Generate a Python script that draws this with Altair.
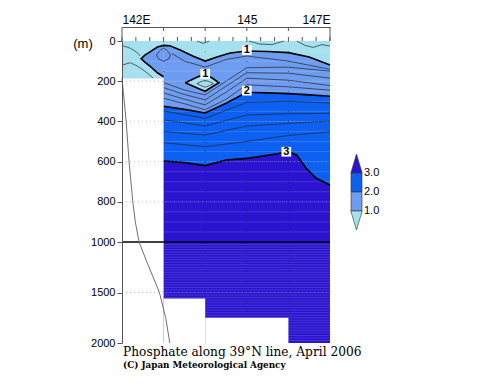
import altair as alt
import pandas as pd

# ---------------- values ----------------
# thick contour 3.0
c3_lon = [142.0, 143.0, 143.5, 144.0, 144.5, 145.0, 145.55, 146.0, 146.2, 146.43, 146.67, 147.0]
c3_dep = [597, 597, 605, 620, 592, 584, 567, 551, 567, 634, 683, 716]
# thick contour 2.0
c2_lon = [142.0, 143.0, 143.5, 144.0, 144.5, 145.0, 145.5, 146.0, 146.5, 147.0]
c2_dep = [325, 325, 340, 358, 310, 255, 258, 262, 268, 275]
# thick contour 1.0 : upper branch and lower (pocket) branch
c1u_lon = [142.46, 142.55, 142.7, 142.85, 143.0, 143.15, 143.4, 143.7, 144.0, 144.3, 144.6, 145.0, 145.5, 146.0, 146.5, 147.0]
c1u_dep = [88, 70, 50, 30, 22, 24, 45, 75, 100, 78, 60, 50, 52, 58, 80, 120]
c1l_lon = [142.46, 142.55, 142.7, 142.85, 143.0]
c1l_dep = [88, 105, 130, 158, 178]
# closed 1.0 bubble
bub_lon = [143.52, 143.7, 143.85, 144.0, 144.15, 144.33]
bub_top = [208, 190, 176, 170, 182, 208]
bub_bot = [208, 224, 238, 250, 230, 208]

# thin contours (every 0.2)
thin = {
    "t28": ([143, 144, 145, 146, 147], [506, 526, 500, 470, 452]),
    "t26": ([143, 144, 145, 146, 147], [450, 468, 423, 410, 398]),
    "t24": ([143, 144, 145, 146, 147], [392, 423, 368, 362, 360]),
    "t22": ([143, 144, 145, 146, 147], [348, 385, 305, 300, 308]),
    "t18": ([143, 143.5, 144, 144.5, 145, 146, 147], [285, 312, 342, 290, 218, 228, 245]),
    "t16": ([143, 143.5, 144, 144.5, 145, 146, 147], [258, 290, 318, 255, 185, 195, 222]),
    "t14": ([143, 143.5, 144, 144.5, 145, 146, 147], [232, 266, 293, 225, 158, 160, 185]),
    "t12": ([143, 143.5, 144, 144.5, 145, 146, 147], [207, 244, 268, 200, 133, 130, 150]),
    "u12": ([143.2, 143.5, 144.0, 144.5, 145.0, 146.0, 147.0], [62, 100, 130, 92, 75, 100, 141]),
    "loop": ([143.0, 142.9, 142.83, 142.88, 143.0, 143.12, 143.17, 143.1, 143.0],
             [35, 50, 70, 90, 100, 90, 70, 50, 35]),
    "cy1": ([142.0, 142.2, 142.35, 142.44], [22, 36, 55, 75]),
    "cy2": ([142.0, 142.2, 142.4, 142.6, 142.75], [120, 108, 128, 158, 185]),
    "cy3": ([143.8, 143.95, 144.1], [0, 12, 0]),
    "cy4": ([145.05, 145.3, 145.6, 145.9], [0, 15, 18, 0]),
    "cy5": ([146.2, 146.4, 146.6, 146.8, 147.0], [0, 22, 32, 18, 25]),
    "cy6": ([143.8, 143.9, 144.0, 144.1, 144.2, 144.1, 144.0, 143.9, 143.8],
            [212, 202, 196, 202, 212, 222, 230, 222, 212]),
}

labels_txt = ["1", "1", "2", "3"]
labels_lon = [145.0, 144.0, 145.0, 145.95]
labels_dep = [45, 163, 247, 551]

# sea bottom (white) steps
land_lon0 = [142.0, 143.0, 144.0]
land_lon1 = [143.0, 144.0, 146.0]
land_top = [185, 1560, 1750]

# grey profile curve
prof_dep = [185, 400, 600, 800, 900, 1000, 1200, 1500, 1750, 2000]
prof_lon = [142.0, 142.1, 142.17, 142.26, 142.32, 142.41, 142.6, 142.9, 143.05, 143.15]

stations = [143, 144, 145, 146]
station_bottom = [1560, 1560, 1750, 1750]
y_ticks = [0, 200, 400, 600, 800, 1000, 1500, 2000]
grid_deps = [200, 400, 600, 800, 1500]
x_labels = [142, 145, 147]
legend_levels = ["3.0", "2.0", "1.0"]

C_CYAN, C_MED, C_BLUE, C_PURP = "#a4e0ee", "#6e9cf0", "#0c60f2", "#2a14cf"

# ---------------- scales and axes ----------------
xs = alt.Scale(domain=[142, 147], nice=False, zero=False)
ys = alt.Scale(domain=[0, 1000, 2000], range=[0, 201, 302], nice=False, zero=False)

x_axis = alt.Axis(orient="top", offset=14, values=x_labels,
                  labelExpr="datum.value == 145 ? '145' : datum.value + 'E'",
                  ticks=False, domainColor="#555", labelFont="Liberation Sans",
                  labelFontSize=12, labelPadding=1, labelColor="black", grid=False,
                  title=None)
y_axis = alt.Axis(orient="left", values=y_ticks, format="d", labelFont="Liberation Sans",
                  labelFontSize=11, labelColor="black", tickSize=5, labelPadding=2,
                  tickColor="#555", domainColor="#555", grid=False, zindex=1, title=None)


def X(f="lon"):
    return alt.X(f"{f}:Q", scale=xs, axis=x_axis, title=None)


def Y(f="dep"):
    return alt.Y(f"{f}:Q", scale=ys, axis=y_axis, title=None)


frame = pd.DataFrame({"lon": [142.0, 147.0], "top": [0, 0], "bot": [2000, 2000]})

base = alt.Chart(frame).mark_area(color=C_PURP).encode(x=X(), y=Y("top"), y2="bot:Q")

blue = alt.Chart(pd.DataFrame({"lon": c3_lon, "dep": c3_dep, "top": 0})).mark_area(
    color=C_BLUE).encode(x=X(), y=Y("top"), y2="dep:Q")
med = alt.Chart(pd.DataFrame({"lon": c2_lon, "dep": c2_dep, "top": 0})).mark_area(
    color=C_MED).encode(x=X(), y=Y("top"), y2="dep:Q")

cyan_left = alt.Chart(pd.DataFrame({"lon": [142.0, 143.0], "top": [0, 0],
                                    "dep": [land_top[0], land_top[0]]})).mark_area(
    color=C_CYAN).encode(x=X(), y=Y("top"), y2="dep:Q")
pocket = alt.Chart(pd.DataFrame({"lon": c1l_lon, "top": c1u_dep[:5], "dep": c1l_dep})).mark_area(
    color=C_MED).encode(x=X(), y=Y("top"), y2="dep:Q")
cyan_top = alt.Chart(pd.DataFrame({"lon": c1u_lon[4:], "top": 0, "dep": c1u_dep[4:]})).mark_area(
    color=C_CYAN).encode(x=X(), y=Y("top"), y2="dep:Q")
bubble = alt.Chart(pd.DataFrame({"lon": bub_lon, "top": bub_top, "dep": bub_bot})).mark_area(
    color=C_CYAN).encode(x=X(), y=Y("top"), y2="dep:Q")

# light horizontal banding of the fill (rendering texture of the original)
stripe_dep = list(range(50, 1000, 50)) + list(range(1025, 2000, 25))
stripes = alt.Chart(pd.DataFrame({"dep": stripe_dep, "lon": 142.0, "lon1": 147.0})).mark_rule(
    color="white", opacity=0.18, strokeWidth=0.8).encode(y=Y(), x=X(), x2="lon1:Q")

st_lines = alt.Chart(pd.DataFrame({"lon": stations, "top": 0, "bot": station_bottom})).mark_rule(
    color="#111", opacity=0.5, strokeWidth=1, strokeDash=[1, 9]).encode(
    x=X(), y=Y("top"), y2="bot:Q")

land = alt.Chart(pd.DataFrame({"lon": land_lon0, "lon1": land_lon1, "top": land_top,
                               "bot": 2000})).mark_rect(color="white").encode(
    x=X(), x2="lon1:Q", y=Y("top"), y2="bot:Q")

# dotted grid: clear over the white sea bottom, faint over the coloured water
grid_faint = alt.Chart(pd.DataFrame({"dep": grid_deps, "lon": 142.0, "lon1": 147.0})).mark_rule(
    color="#cccccc", strokeWidth=1, strokeDash=[1, 3], opacity=0.3).encode(
    y=Y(), x=X(), x2="lon1:Q")
grid_land = alt.Chart(pd.DataFrame({"dep": grid_deps, "lon": land_lon0[0], "lon1": land_lon1[0]})).mark_rule(
    color="#bdbdbd", strokeWidth=1, strokeDash=[1, 3], opacity=0.85).encode(
    y=Y(), x=X(), x2="lon1:Q")

# contour lines
rows = []
for name, (lo, de) in thin.items():
    for i, (a, b) in enumerate(zip(lo, de)):
        rows.append({"line": name, "i": i, "lon": a, "dep": b})
thin_df = pd.DataFrame(rows)

thick_rows = []
c1_lon = c1l_lon[::-1] + c1u_lon[1:]
c1_dep = c1l_dep[::-1] + c1u_dep[1:]
bub_loop_lon = bub_lon + bub_lon[::-1][1:]
bub_loop_dep = bub_top + bub_bot[::-1][1:]
for name, lo, de in [("c1", c1_lon, c1_dep), ("c1b", bub_loop_lon, bub_loop_dep),
                     ("c2", c2_lon[1:], c2_dep[1:]), ("c3", c3_lon[1:], c3_dep[1:])]:
    for i, (a, b) in enumerate(zip(lo, de)):
        thick_rows.append({"line": name, "i": i, "lon": a, "dep": b})
thick_df = pd.DataFrame(thick_rows)

thin_lines = alt.Chart(thin_df).mark_line(color="#222", strokeWidth=0.8, opacity=0.85).encode(
    x=X(), y=Y(), detail="line:N", order="i:Q")
thick_lines = alt.Chart(thick_df).mark_line(color="black", strokeWidth=1.6).encode(
    x=X(), y=Y(), detail="line:N", order="i:Q")

line1000 = alt.Chart(pd.DataFrame({"lon": [142.0], "lon1": [147.0], "dep": [1000]})).mark_rule(
    color="black", strokeWidth=1.5).encode(y=Y(), x=X(), x2="lon1:Q")

profile = alt.Chart(pd.DataFrame({"lon": prof_lon, "dep": prof_dep,
                                  "i": list(range(len(prof_dep)))})).mark_line(
    color="#707070", strokeWidth=1).encode(x=X(), y=Y(), order="i:Q")

lab_df = pd.DataFrame({"t": labels_txt, "lon": labels_lon, "dep": labels_dep})
lab_box = alt.Chart(lab_df).mark_point(shape="square", filled=True, color="white",
                                       size=95, opacity=1).encode(x=X(), y=Y())
lab_txt = alt.Chart(lab_df).mark_text(font="Liberation Sans", fontSize=11, fontWeight="bold",
                                      color="black", baseline="middle").encode(
    x=X(), y=Y(), text="t:N")

# ticks on the top
minor_lon = [142 + k / 3 for k in range(16)]
minor = alt.Chart(pd.DataFrame({"lon": minor_lon})).mark_rule(color="#555").encode(
    x=X(), y=alt.value(-4), y2=alt.value(0))
major = alt.Chart(pd.DataFrame({"lon": [143, 144, 145, 146]})).mark_rule(color="#555").encode(
    x=X(), y=alt.value(-14), y2=alt.value(-10))
ends = alt.Chart(pd.DataFrame({"lon": [142, 147]})).mark_rule(color="#555").encode(
    x=X(), y=alt.value(-14), y2=alt.value(0))

one = pd.DataFrame({"v": [0]})
unit_txt = alt.Chart(one).mark_text(text="(m)", font="Liberation Sans", fontSize=13,
                                    align="center", baseline="middle", color="#000000").encode(
    x=alt.value(-39), y=alt.value(3))
title1 = alt.Chart(one).mark_text(text="Phosphate along 39°N line, April 2006",
                                  font="DejaVu Serif", fontSize=12.2, align="left",
                                  baseline="alphabetic", color="black").encode(
    x=alt.value(1), y=alt.value(315))
title2 = alt.Chart(one).mark_text(text="(C) Japan Meteorological Agency",
                                  font="DejaVu Serif", fontSize=8.8, fontWeight="bold",
                                  align="left", baseline="alphabetic", color="black").encode(
    x=alt.value(1), y=alt.value(327))

# colour bar
CB_X0, CB_X1, CB_XC, BOX = 229, 240, 234.5, 19
CB_TOP = 113
cb = []
cb.append(alt.Chart(one).mark_point(shape="M-0.6,1L0,-1L0.6,1Z", filled=True, fill=C_PURP,
                                    stroke="#333", strokeWidth=0.6, size=BOX * BOX, opacity=1).encode(
    x=alt.value(CB_XC), y=alt.value(CB_TOP + BOX / 2)))
for k, col in enumerate([C_BLUE, C_MED]):
    y0 = CB_TOP + BOX * (k + 1)
    cb.append(alt.Chart(one).mark_rect(fill=col, stroke="#333", strokeWidth=0.6).encode(
        x=alt.value(CB_X0), x2=alt.value(CB_X1), y=alt.value(y0), y2=alt.value(y0 + BOX)))
cb.append(alt.Chart(one).mark_point(shape="M-0.6,-1L0,1L0.6,-1Z", filled=True, fill=C_CYAN,
                                    stroke="#333", strokeWidth=0.6, size=BOX * BOX, opacity=1).encode(
    x=alt.value(CB_XC), y=alt.value(CB_TOP + BOX * 3 + BOX / 2)))
for k, t in enumerate(legend_levels):
    cb.append(alt.Chart(one).mark_text(text=t, font="Liberation Sans", fontSize=11,
                                       align="left", baseline="middle", color="black").encode(
        x=alt.value(CB_X1 + 2), y=alt.value(CB_TOP + BOX * (k + 1))))

chart = alt.layer(
    base, blue, med, cyan_left, pocket, cyan_top, bubble, stripes, st_lines,
    thin_lines, thick_lines, land, grid_faint, grid_land, line1000, profile, lab_box, lab_txt,
    minor, major, ends, unit_txt, title1, title2, *cb
).properties(
    width=208, height=302,
    padding={"left": 114, "top": 33, "right": 160, "bottom": 34},
    autosize=alt.AutoSizeParams(type="none"),
).configure_view(stroke=None)

chart.save("out.html", embed_options={"renderer": "svg", "actions": False})
